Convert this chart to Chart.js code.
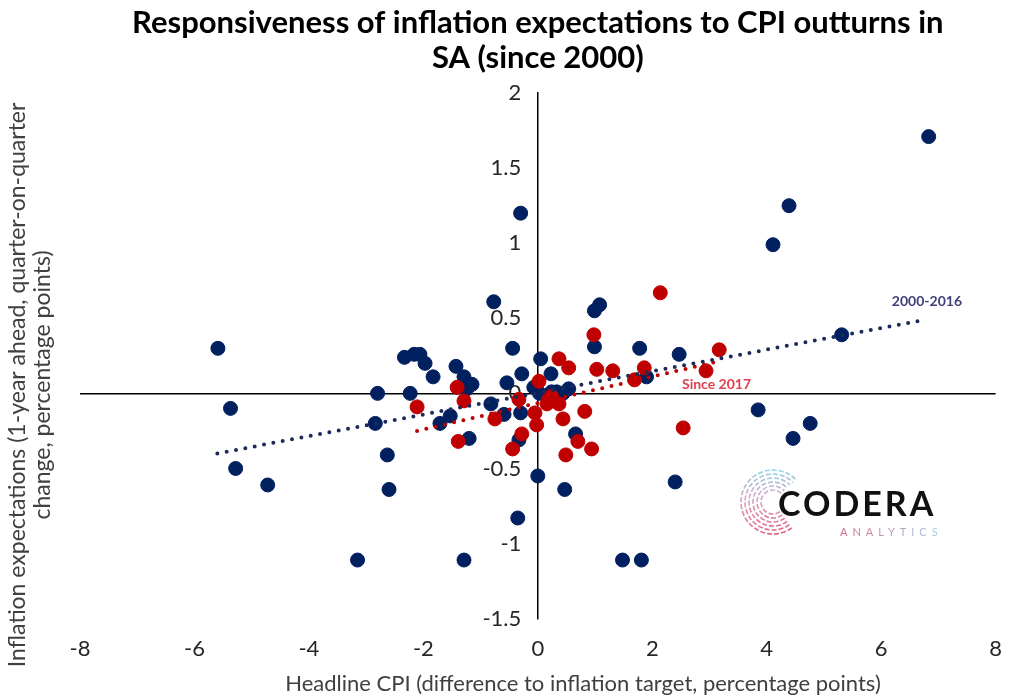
<!DOCTYPE html>
<html>
<head>
<meta charset="utf-8">
<script src="https://cdn.jsdelivr.net/npm/chart.js@4.4.0/dist/chart.umd.min.js"></script>
<style>
  html, body { margin: 0; padding: 0; background: #fff; }
  #wrap { width: 1019px; height: 698px; position: relative; }
</style>
</head>
<body>
<div id="wrap"><canvas id="scatterChart"></canvas></div>
<script>
// quarterly observations: headline CPI gap (x) vs change in 1-yr ahead expectations (y)
const x2000to2016 = [
    6.83, 4.39, 4.11, -0.30, 5.31, -0.77, 0.99, 1.08, -5.59, 2.47,
    1.78, 0.99, -0.44, 0.05, 0.23, -0.07, 0.33, 0.54, 1.90, 0.66,
    -5.37, -5.28, -4.72, -2.80, -2.84, -2.63, -2.60, -3.15, -1.29, -0.35,
    0.00, 0.47, 1.48, 1.81, 2.40, 3.85, 4.46, 4.76, -2.33, -2.16,
    -2.06, -1.97, -1.83, -1.43, -1.29, -1.15, -1.24, -2.23, -1.71, -1.53,
    -1.20, -0.82, -0.59, -0.30, -0.28, -0.54, -0.33, 0.03, 0.24, 0.44
];
const y2000to2016 = [
    1.71, 1.25, 0.99, 1.20, 0.39, 0.61, 0.55, 0.59, 0.30, 0.26,
    0.30, 0.31, 0.30, 0.23, 0.13, 0.04, 0.01, 0.03, 0.11, -0.27,
    -0.10, -0.50, -0.61, 0.00, -0.20, -0.41, -0.64, -1.11, -1.11, -0.83,
    -0.55, -0.64, -1.11, -1.11, -0.59, -0.11, -0.30, -0.20, 0.24, 0.26,
    0.26, 0.20, 0.11, 0.18, 0.11, 0.06, 0.03, 0.00, -0.20, -0.15,
    -0.30, -0.07, -0.14, -0.13, 0.13, 0.07, -0.31, 0.00, 0.01, 0.00
];
const xSince2017 = [
    2.14, 0.98, 3.17, 2.94, 0.37, 0.54, 1.03, 1.31, 1.86, 1.69,
    0.02, 0.19, 0.37, 0.24, 0.82, 0.44, -0.05, -0.02, 0.70, 0.94,
    0.49, 2.54, -1.41, -2.11, -1.29, -0.75, -1.39, -0.33, -0.28, -0.44, 0.16
];
const ySince2017 = [
    0.67, 0.39, 0.29, 0.15, 0.23, 0.17, 0.16, 0.15, 0.17, 0.09,
    0.08, -0.04, -0.07, -0.02, -0.12, -0.17, -0.13, -0.21, -0.32, -0.37,
    -0.41, -0.23, 0.04, -0.09, -0.05, -0.17, -0.32, -0.04, -0.27, -0.37, -0.07
];

// linear trend lines (start / end)
const trendX2000to2016 = [-5.6, 6.76];
const trendY2000to2016 = [-0.40, 0.49];
const trendXSince2017 = [-2.11, 3.12];
const trendYSince2017 = [-0.25, 0.21];

const chartTitle = ["Responsiveness of inflation expectations to CPI outturns in", "SA (since 2000)"];
const xTitle = "Headline CPI (difference to inflation target, percentage points)";
const yTitle = ["Inflation expectations (1-year ahead, quarter-on-quarter", "change, percentage points)"];

const NAVY = "#002060";
const RED = "#c00000";

function toPoints(xs, ys) {
    return xs.map((x, i) => ({ x: x, y: ys[i] }));
}

// axis titles, series labels and logo
const extrasPlugin = {
    id: "extras",
    afterDraw(chart) {
        const c = chart.ctx;
        const xs = chart.scales.x, ys = chart.scales.y;
        c.save();

        // y axis title (two lines, rotated)
        c.fillStyle = "#404040";
        c.font = "23px Lato";
        c.textAlign = "center";
        c.textBaseline = "middle";
        c.save();
        c.translate(18, 385);
        c.rotate(-Math.PI / 2);
        c.fillText(yTitle[0], 0, 0);
        c.fillText(yTitle[1], 0, 25);
        c.restore();

        // x axis title
        c.font = "22px Lato";
        c.fillText(xTitle, 583, 684);

        // series labels
        c.font = "bold 14px Lato";
        c.fillStyle = "#3f3f7a";
        c.fillText("2000-2016", xs.getPixelForValue(6.8), ys.getPixelForValue(0.61));
        c.fillStyle = "#e0404f";
        c.textAlign = "left";
        c.fillText("Since 2017", xs.getPixelForValue(2.52), ys.getPixelForValue(0.06));

        // logo
        const cx = 773, cy = 502;
        const grad = c.createLinearGradient(0, cy - 32, 0, cy + 32);
        grad.addColorStop(0, "#8fd3e6");
        grad.addColorStop(0.45, "#d9a3c4");
        grad.addColorStop(1, "#e2607f");
        c.strokeStyle = grad;
        c.lineWidth = 1.6;
        c.setLineDash([5, 2]);
        for (let r = 12; r <= 32; r += 4) {
            c.beginPath();
            c.arc(cx, cy, r, 0.3 * Math.PI, 1.75 * Math.PI);
            c.stroke();
        }
        c.setLineDash([]);
        c.fillStyle = "#111";
        c.font = "bold 34px Lato";
        c.textAlign = "left";
        c.textBaseline = "alphabetic";
        c.letterSpacing = "3px";
        c.fillText("CODERA", 778, 516);
        const g2 = c.createLinearGradient(840, 0, 940, 0);
        g2.addColorStop(0, "#d46a8c");
        g2.addColorStop(1, "#9fd3e3");
        c.fillStyle = g2;
        c.font = "11px Lato";
        c.letterSpacing = "5px";
        c.fillText("ANALYTICS", 840, 536);
        c.restore();
    }
};

const ctx = document.getElementById("scatterChart").getContext("2d");

new Chart(ctx, {
    type: "scatter",
    data: {
        datasets: [
            {
                label: "2000-2016 trend",
                data: toPoints(trendX2000to2016, trendY2000to2016),
                showLine: true,
                borderColor: "#1c2a5a",
                borderWidth: 4,
                borderDash: [0, 9.5],
                borderCapStyle: "round",
                pointRadius: 0,
                order: 0
            },
            {
                label: "Since 2017 trend",
                data: toPoints(trendXSince2017, trendYSince2017),
                showLine: true,
                borderColor: RED,
                borderWidth: 4,
                borderDash: [0, 9.5],
                borderCapStyle: "round",
                pointRadius: 0,
                order: 1
            },
            {
                label: "Since 2017",
                data: toPoints(xSince2017, ySince2017),
                backgroundColor: RED,
                borderColor: RED,
                pointRadius: 7,
                order: 2
            },
            {
                label: "2000-2016",
                data: toPoints(x2000to2016, y2000to2016),
                backgroundColor: NAVY,
                borderColor: NAVY,
                pointRadius: 7,
                order: 3
            }
        ]
    },
    options: {
        responsive: true,
        maintainAspectRatio: false,
        animation: false,
        layout: {
            padding: { left: 80, right: 8, top: 0, bottom: 19 }
        },
        plugins: {
            legend: { display: false },
            tooltip: { enabled: false },
            title: {
                display: true,
                fullSize: false,
                text: chartTitle,
                color: "#000",
                font: { family: "Lato", size: 31, weight: "bold", lineHeight: 1.13 },
                padding: { top: 5, bottom: 18 }
            }
        },
        scales: {
            x: {
                type: "linear",
                position: "bottom",
                min: -8,
                max: 8,
                ticks: {
                    stepSize: 2,
                    padding: 17,
                    color: "#262626",
                    font: { family: "Lato", size: 22 }
                },
                grid: { display: false, drawTicks: false },
                border: { display: false }
            },
            y: {
                type: "linear",
                position: { x: 0 },
                min: -1.5,
                max: 2,
                ticks: {
                    stepSize: 0.5,
                    color: "#262626",
                    font: { family: "Lato", size: 22 },
                    callback: v => v + "\u2003"
                },
                grid: {
                    color: c => c.tick && c.tick.value === 0 ? "#000" : "rgba(0,0,0,0)",
                    lineWidth: 1.5,
                    drawTicks: false
                },
                border: { display: true, color: "#000", width: 1.5 }
            }
        }
    },
    plugins: [extrasPlugin]
});
</script>
</body>
</html>
